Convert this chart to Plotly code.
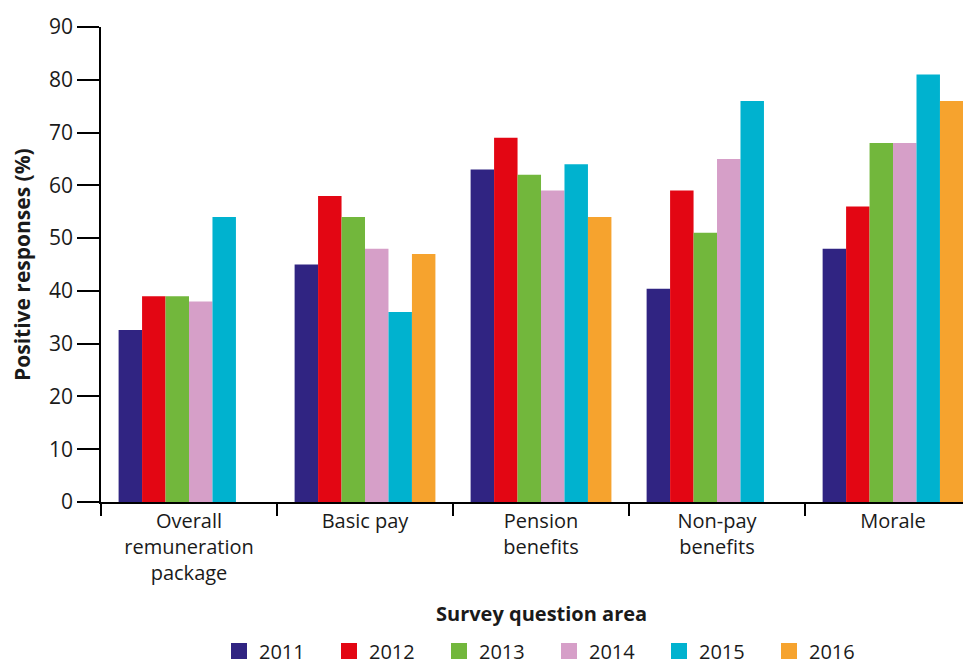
import plotly.graph_objects as go

categories = ["Overall<br>remuneration<br>package", "Basic pay", "Pension<br>benefits",
              "Non-pay<br>benefits", "Morale"]
years = ["2011", "2012", "2013", "2014", "2015", "2016"]
v2011 = [32.6, 45, 63, 40.4, 48]
v2012 = [39, 58, 69, 59, 56]
v2013 = [39, 54, 62, 51, 68]
v2014 = [38, 48, 59, 65, 68]
v2015 = [54, 36, 64, 76, 81]
v2016 = [None, 47, 54, None, 76]
colors = ["#302482", "#e30613", "#72b73c", "#d69fc8", "#00b2cf", "#f6a32e"]
y_ticks = [0, 10, 20, 30, 40, 50, 60, 70, 80, 90]

series = [v2011, v2012, v2013, v2014, v2015, v2016]
FONT = "Open Sans"
TXT = "#1a1a1a"

fig = go.Figure()
for yr, vals, col in zip(years, series, colors):
    fig.add_trace(go.Bar(x=categories, y=vals, name=yr, marker_color=col,
                         marker_line_width=0, showlegend=False))
for yr, col in zip(years, colors):
    fig.add_trace(go.Scatter(x=[None], y=[None], mode="markers", name=yr,
                             marker=dict(symbol="square", size=20, color=col)))

# the page places the figure 8px in from the top-left corner of the window
OFF = 8
W, H = 971 - OFF, 666 - OFF
L, T = 101 - OFF, 27 - OFF
B = H - (502 - OFF)
pw, ph = W - L, H - T - B


def px_x(sx):
    return (sx - OFF - L) / pw


def px_y(sy):
    return (H - B - (sy - OFF)) / ph


fig.update_layout(
    width=W, height=H,
    margin=dict(l=L, r=0, t=T, b=B, autoexpand=False),
    plot_bgcolor="white", paper_bgcolor="white",
    barmode="group", bargap=0.2, bargroupgap=0,
    font=dict(family=FONT, color=TXT),
    showlegend=True,
    legend=dict(orientation="h", x=px_x(219), xanchor="left",
                y=px_y(651), yanchor="middle",
                font=dict(size=20, family=FONT, color=TXT),
                itemwidth=30, tracegroupgap=0,
                entrywidth=65, entrywidthmode="pixels"),
    xaxis=dict(range=[-0.5, 4.443], showline=True, linecolor="black", linewidth=1.5,
               ticks="outside", tickson="boundaries", ticklen=12, tickwidth=1.5,
               tickcolor="black", showgrid=False, zeroline=False, automargin=False,
               tickfont=dict(size=20, family=FONT, color=TXT)),
    yaxis=dict(range=[0, 90], tickvals=y_ticks, showline=True, linecolor="black",
               linewidth=1.5, ticks="outside", ticklen=22, tickwidth=1.5,
               tickcolor="black", showgrid=False, zeroline=False, automargin=False,
               tickfont=dict(size=21, family=FONT, color=TXT)),
    annotations=[
        dict(text="<b>Positive responses (%)</b>", textangle=-90,
             x=px_x(22), y=px_y(265), xanchor="center", yanchor="middle",
             xref="paper", yref="paper", showarrow=False,
             font=dict(size=21, family=FONT, color=TXT)),
        dict(text="<b>Survey question area</b>",
             x=px_x(541), y=px_y(613), xanchor="center", yanchor="middle",
             xref="paper", yref="paper", showarrow=False,
             font=dict(size=20, family=FONT, color=TXT)),
    ],
)

fig.write_html("out.html")
